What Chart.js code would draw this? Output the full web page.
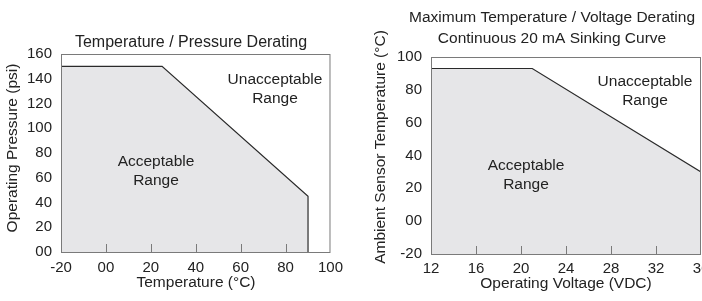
<!DOCTYPE html>
<html>
<head>
<meta charset="utf-8">
<script src="https://cdn.jsdelivr.net/npm/chart.js@4.4.1/dist/chart.umd.min.js"></script>
<style>
  html, body { margin: 0; padding: 0; background: #fff; }
  body { width: 702px; height: 301px; position: relative; overflow: hidden; }
  #leftWrap { position: absolute; left: 0; top: 0; width: 350px; height: 301px; overflow: hidden; }
  #rightWrap { position: absolute; left: 350px; top: 0; width: 352px; height: 301px; overflow: hidden; }
  canvas { display: block; }
</style>
</head>
<body>
<div id="leftWrap"><canvas id="chartPressure" width="350" height="301"></canvas></div>
<div id="rightWrap"><canvas id="chartVoltage" width="372" height="301"></canvas></div>
<script>
// left chart: temperature / pressure derating
const tempX = [-20, 25, 90, 90];
const pressureY = [150, 150, 45, 0];
const tempTicks = ['-20', '00', '20', '40', '60', '80', '100'];
const pressureTicks = ['00', '20', '40', '60', '80', '100', '120', '140', '160'];

// right chart: max temperature / voltage derating
const voltX = [12, 21, 36];
const sensorTempY = [93, 93, 30];
const voltTicks = ['12', '16', '20', '24', '28', '32', '36'];
const sensorTicks = ['-20', '00', '20', '40', '60', '80', '100'];

const FONT = '"Liberation Sans", Arial, sans-serif';
const INK = '#222';
const FILL = '#e6e6e8';
const LINE = '#2a2a2a';
const FRAME = '#7a7a7a';

// frame, inner x tick marks and the free text of each panel
const panelDecor = {
  id: 'panelDecor',
  afterDraw(chart, args, opts) {
    const ctx = chart.ctx;
    const { left, top, right, bottom } = chart.chartArea;
    ctx.save();
    ctx.strokeStyle = FRAME;
    ctx.lineWidth = 1;
    ctx.strokeRect(left + 0.5, top + 0.5, right - left - 1, bottom - top);

    const xs = chart.scales.x;
    ctx.beginPath();
    xs.ticks.forEach((t, i) => {
      if (i === 0 || i === xs.ticks.length - 1) return;
      const px = Math.round(xs.getPixelForValue(t.value)) + 0.5;
      ctx.moveTo(px, bottom);
      ctx.lineTo(px, bottom - 8);
    });
    ctx.stroke();

    ctx.fillStyle = INK;
    (opts.items || []).forEach(it => {
      ctx.save();
      ctx.font = `${it.size || 15.5}px ${FONT}`;
      ctx.textAlign = 'center';
      ctx.translate(it.x, it.y);
      if (it.rot) {
        ctx.rotate(it.rot);
        ctx.textBaseline = 'middle';
      } else {
        ctx.textBaseline = 'alphabetic';
      }
      ctx.fillText(it.text, 0, 0);
      ctx.restore();
    });
    ctx.restore();
  }
};

function makeScales(xMin, xMax, xStep, xLabels, yMin, yMax, yStep, yLabels, yWidth, xHeight, xPad) {
  const tickFont = { family: FONT, size: 15 };
  return {
    x: {
      type: 'linear', min: xMin, max: xMax,
      grid: { display: false, drawTicks: false },
      border: { display: false },
      ticks: {
        stepSize: xStep, autoSkip: false, maxRotation: 0, padding: xPad,
        color: INK, font: tickFont,
        callback: (v, i) => xLabels[i]
      },
      afterFit(s) { s.height = xHeight; }
    },
    y: {
      type: 'linear', min: yMin, max: yMax,
      grid: { display: false, drawTicks: false },
      border: { display: false },
      ticks: {
        stepSize: yStep, autoSkip: false, padding: 9,
        color: INK, font: tickFont,
        callback: (v, i) => yLabels[i]
      },
      afterFit(s) { s.width = yWidth; }
    }
  };
}

function areaDataset(xs, ys) {
  return {
    data: xs.map((x, i) => ({ x: x, y: ys[i] })),
    borderColor: LINE,
    borderWidth: 1.2,
    backgroundColor: FILL,
    fill: 'start',
    pointRadius: 0,
    tension: 0
  };
}

new Chart(document.getElementById('chartPressure'), {
  type: 'line',
  data: { datasets: [areaDataset(tempX, pressureY)] },
  options: {
    responsive: false,
    animation: false,
    layout: { padding: { left: 0, top: 54, right: 19, bottom: 0 } },
    plugins: {
      legend: { display: false },
      tooltip: { enabled: false },
      panelDecor: {
        items: [
          { text: 'Temperature / Pressure Derating', x: 191, y: 47, size: 16 },
          { text: 'Acceptable', x: 156, y: 166 },
          { text: 'Range', x: 156, y: 185 },
          { text: 'Unacceptable', x: 275, y: 84 },
          { text: 'Range', x: 275, y: 103 },
          { text: 'Temperature (\u00B0C)', x: 196, y: 287 },
          { text: 'Operating Pressure (psi)', x: 13, y: 148, rot: -Math.PI / 2 }
        ]
      }
    },
    scales: makeScales(-20, 100, 20, tempTicks, 0, 160, 20, pressureTicks, 61, 49, 7)
  },
  plugins: [panelDecor]
});

new Chart(document.getElementById('chartVoltage'), {
  type: 'line',
  data: { datasets: [areaDataset(voltX, sensorTempY)] },
  options: {
    responsive: false,
    animation: false,
    layout: { padding: { left: 0, top: 57, right: 21, bottom: 0 } },
    plugins: {
      legend: { display: false },
      tooltip: { enabled: false },
      panelDecor: {
        items: [
          { text: 'Maximum Temperature / Voltage Derating', x: 202, y: 22 },
          { text: 'Continuous 20 mA Sinking Curve', x: 202, y: 43 },
          { text: 'Acceptable', x: 176, y: 170 },
          { text: 'Range', x: 176, y: 189 },
          { text: 'Unacceptable', x: 295, y: 86 },
          { text: 'Range', x: 295, y: 105 },
          { text: 'Operating Voltage (VDC)', x: 216, y: 288 },
          { text: 'Ambient Sensor Temperature (\u00B0C)', x: 31, y: 147, rot: -Math.PI / 2 }
        ]
      }
    },
    scales: makeScales(12, 36, 4, voltTicks, -20, 100, 20, sensorTicks, 81, 47, 6)
  },
  plugins: [panelDecor]
});
</script>
</body>
</html>
